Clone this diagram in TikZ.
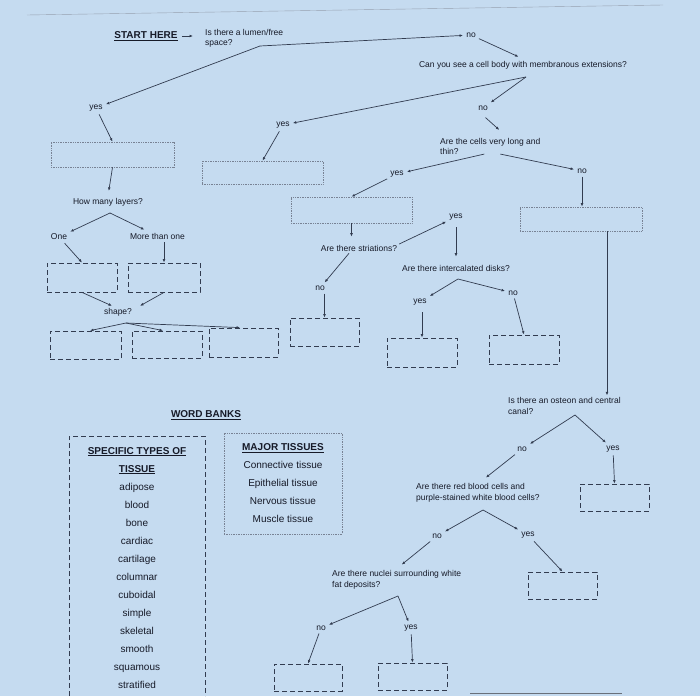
\documentclass[tikz,border=0pt]{standalone}
\usepackage{fontspec}
\setmainfont{Liberation Sans}
\usetikzlibrary{arrows.meta,positioning,calc}
\definecolor{paper}{RGB}{197,219,240}
\definecolor{ink}{RGB}{22,26,40}
\definecolor{wire}{RGB}{50,60,80}
\definecolor{dotgray}{RGB}{120,130,148}
\definecolor{edgegray}{RGB}{150,160,175}
\newcommand{\qfont}{\fontsize{8.5}{10.5}\selectfont}
\newcommand{\bankfont}{\fontsize{10}{18}\selectfont}
\tikzset{
  question/.style={font=\qfont, text=ink, align=left, inner sep=2pt},
  answer/.style={font=\qfont, text=ink, inner sep=3pt},
  heading/.style={font=\fontsize{10}{12}\selectfont\bfseries, text=ink, inner sep=1pt},
  dotbox/.style={draw=dotgray, densely dotted, line width=0.7pt, inner sep=0pt},
  dashbox/.style={draw=wire, dash pattern=on 5pt off 3pt, line width=0.8pt, inner sep=0pt},
  arrow/.style={-{Latex[length=3.5pt,width=2.8pt]}, draw=wire, line width=0.7pt}
}

\begin{document}
\begin{tikzpicture}[x=1pt, y=-1pt]
  \fill[paper] (0,0) rectangle (700,696);
  \useasboundingbox (0,0) rectangle (700,696);
  \draw[edgegray] (27,15) -- (663,5);
  \draw[edgegray!70!black, line width=1pt] (470,693) -- (622,693);

  \node[heading] (start) at (146,36) {\underline{START HERE}};
  \node[question, anchor=west] (lumen) at (203,38.5) {Is there a lumen/free\\space?};
  \node[answer] (lumenno) at (471,35) {no};
  \node[answer] (lumenyes) at (96,108) {yes};
  \node[question] (membrane) at (523,65) {Can you see a cell body with membranous extensions?};
  \node[answer] (membraneyes) at (283,125) {yes};
  \node[answer] (membraneno) at (483,108) {no};
  \node[question, anchor=west] (longthin) at (438,146.5) {Are the cells very long and\\thin?};
  \node[answer] (longyes) at (397,174) {yes};
  \node[answer] (longno) at (582,171) {no};
  \node[question] (layers) at (108,202) {How many layers?};
  \node[answer] (one) at (59,237) {One};
  \node[answer] (more) at (157.5,236) {More than one};
  \node[question] (shape) at (118,312) {shape?};
  \node[question] (striation) at (359,248) {Are there striations?};
  \node[answer] (striyes) at (456,217) {yes};
  \node[answer] (strino) at (320,288) {no};
  \node[question] (disks) at (456,268) {Are there intercalated disks?};
  \node[answer] (diskyes) at (420,302) {yes};
  \node[answer] (diskno) at (513,293) {no};
  \node[question, anchor=west] (osteon) at (506,406) {Is there an osteon and central\\canal?};
  \node[answer] (osteonno) at (522,449) {no};
  \node[answer] (osteonyes) at (613,449) {yes};
  \node[question, anchor=west] (blood) at (414,493) {Are there red blood cells and\\purple-stained white blood cells?};
  \node[answer] (bloodno) at (437,536) {no};
  \node[answer] (bloodyes) at (528,535) {yes};
  \node[question, anchor=west] (nuclei) at (330,580) {Are there nuclei surrounding white\\fat deposits?};
  \node[answer] (nucleino) at (321,628) {no};
  \node[answer] (nucleiyes) at (411,628) {yes};

  \node[dotbox, minimum width=123pt, minimum height=25pt] (lumenbox) at (112.5,154.5) {};
  \node[dotbox, minimum width=121pt, minimum height=23pt] (nervebox) at (262.5,172.5) {};
  \node[dotbox, minimum width=121pt, minimum height=26pt] (musclebox) at (351.5,210) {};
  \node[dotbox, minimum width=122pt, minimum height=24pt] (ctbox) at (581,219) {};
  \node[dashbox, minimum width=70pt, minimum height=29pt] (onebox) at (82,277.5) {};
  \node[dashbox, minimum width=72pt, minimum height=29pt] (morebox) at (164,277.5) {};
  \node[dashbox, minimum width=71pt, minimum height=28pt] (shapeboxa) at (85.5,345) {};
  \node[dashbox, minimum width=70pt, minimum height=27pt] (shapeboxb) at (167,344.5) {};
  \node[dashbox, minimum width=69pt, minimum height=29pt] (shapeboxc) at (243.5,342.5) {};
  \node[dashbox, minimum width=69pt, minimum height=28pt] (strinobox) at (324.5,332) {};
  \node[dashbox, minimum width=70pt, minimum height=29pt] (diskyesbox) at (422,352.5) {};
  \node[dashbox, minimum width=70pt, minimum height=29pt] (disknobox) at (524,349.5) {};
  \node[dashbox, minimum width=69pt, minimum height=27pt] (osteonbox) at (614.5,497.5) {};
  \node[dashbox, minimum width=69pt, minimum height=27pt] (bloodbox) at (562.5,585.5) {};
  \node[dashbox, minimum width=68pt, minimum height=27pt] (nucleinobox) at (308,677.5) {};
  \node[dashbox, minimum width=69pt, minimum height=27pt] (nucleiyesbox) at (412.5,676.5) {};

  \coordinate (lumensplit) at (260,46);
  \coordinate (membranesplit) at (526,77);
  \coordinate (layersplit) at (110,213);
  \coordinate (shapesplit) at (126,323);
  \coordinate (disksplit) at (458,279);
  \coordinate (osteonsplit) at (575,415);
  \coordinate (bloodsplit) at (483,510);
  \coordinate (nucleisplit) at (398,596);

  \draw[arrow, shorten <=3pt, shorten >=10pt] (start.east) -- (start.east -| lumen.west);
  \draw[arrow] (lumensplit) -- (lumenno);
  \draw[arrow] (lumensplit) -- (lumenyes);
  \draw[arrow, shorten >=5pt] (lumenno) -- (membrane.north);
  \draw[arrow] (membranesplit) -- (membraneyes);
  \draw[arrow] (membranesplit) -- (membraneno);
  \draw[arrow, shorten <=6pt] ([xshift=-2pt]membraneno.south) -- ([xshift=9pt, yshift=6pt]longthin.north);
  \draw[arrow] ([xshift=-6pt, yshift=3pt]longthin.south) -- (longyes);
  \draw[arrow] ([xshift=10pt, yshift=3pt]longthin.south) -- (longno);
  \draw[arrow] (longyes) -- (musclebox.north);
  \draw[arrow] (longno) -- (longno |- ctbox.north);
  \draw[arrow] ([xshift=26pt]ctbox.south) -- ([xshift=26pt]ctbox.south |- osteon.north);

  \draw[arrow] (lumenyes) -- (lumenbox.north);
  \draw[arrow, shorten >=5pt] (lumenbox.south) -- (layers.north);
  \draw[arrow] (layersplit) -- (one);
  \draw[arrow] (layersplit) -- (more);
  \draw[arrow] (one) -- (onebox.north);
  \draw[arrow] (morebox.north |- more.south) -- (morebox.north);
  \draw[arrow] (onebox.south) -- ([xshift=-6pt]shape.north);
  \draw[arrow] (morebox.south) -- ([xshift=22pt]shape.north);
  \draw[arrow] (shapesplit) -- ([xshift=4.5pt]shapeboxa.north);
  \draw[arrow] (shapesplit) -- ([xshift=-4pt]shapeboxb.north);
  \draw[arrow] (shapesplit) -- ([xshift=-3.5pt]shapeboxc.north);

  \draw[arrow] (membraneyes) -- (nervebox.north);
  \draw[arrow, shorten >=6pt] (musclebox.south) -- (musclebox.south |- striation.north);
  \draw[arrow] ([yshift=4pt]striation.east) -- (striyes);
  \draw[arrow] ([xshift=-10pt]striation.south) -- (strino);
  \draw[arrow] (strinobox.north |- strino.south) -- (strinobox.north);
  \draw[arrow, shorten <=4pt, shorten >=6pt] (striyes) -- (striyes |- disks.north);
  \draw[arrow] (disksplit) -- (diskyes);
  \draw[arrow] (disksplit) -- (diskno);
  \draw[arrow, shorten <=4pt] (diskyesbox.north |- diskyes.south) -- (diskyesbox.north);
  \draw[arrow] (diskno) -- (disknobox.north);

  \draw[arrow] (osteonsplit) -- (osteonno);
  \draw[arrow] (osteonsplit) -- (osteonyes);
  \draw[arrow] (osteonyes) -- (osteonbox.north);
  \draw[arrow] (osteonno) -- ([xshift=8pt, yshift=4pt]blood.north);
  \draw[arrow] (bloodsplit) -- (bloodno);
  \draw[arrow] (bloodsplit) -- (bloodyes);
  \draw[arrow] (bloodyes) -- (bloodbox.north);
  \draw[arrow] (bloodno) -- ([xshift=5pt, yshift=4pt]nuclei.north);
  \draw[arrow] (nucleisplit) -- (nucleino);
  \draw[arrow] (nucleisplit) -- (nucleiyes);
  \draw[arrow] (nucleino) -- (nucleinobox.north);
  \draw[arrow] (nucleiyes) -- (nucleiyesbox.north);

  \node[heading] (wordbank) at (206,415) {\underline{WORD BANKS}};
  \draw[dashbox] (69,696) -- (69,436) -- (205,436) -- (205,696);
  \node[font=\bankfont, text=ink, align=center, anchor=north, inner sep=0pt] (specific) at (137,447)
    {\underline{\textbf{SPECIFIC TYPES OF}}\\\underline{\textbf{TISSUE}}\\adipose\\blood\\bone\\cardiac\\cartilage\\columnar\\cuboidal\\simple\\skeletal\\smooth\\squamous\\stratified};
  \node[dotbox, minimum width=118pt, minimum height=101pt, font=\bankfont, text=ink, align=center] (major) at (283,483.5)
    {\underline{\textbf{MAJOR TISSUES}}\\Connective tissue\\Epithelial tissue\\Nervous tissue\\Muscle tissue};
\end{tikzpicture}
\end{document}
